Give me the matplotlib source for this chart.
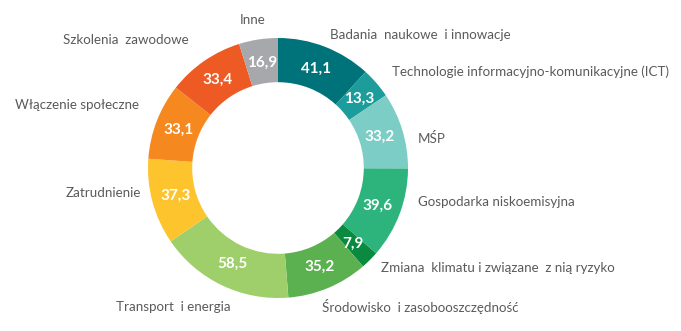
import matplotlib
matplotlib.use("Agg")
import matplotlib.pyplot as plt
import numpy as np

labels = ["Badania  naukowe  i innowacje",
          "Technologie informacyjno-komunikacyjne (ICT)",
          "MŚP",
          "Gospodarka niskoemisyjna",
          "Zmiana  klimatu i związane  z nią ryzyko",
          "Środowisko  i zasobooszczędność",
          "Transport  i energia",
          "Zatrudnienie",
          "Włączenie społeczne",
          "Szkolenia  zawodowe",
          "Inne"]
values = [41.1, 13.3, 33.2, 39.6, 7.9, 35.2, 58.5, 37.3, 33.1, 33.4, 16.9]
colors = ["#00737A", "#1C9C9B", "#7BCDC6", "#2DB47C", "#0A8A3E", "#5BB04F",
          "#9FCF6B", "#FEC42E", "#F5891F", "#EE5A24", "#A7A8AB"]

# label anchor positions in pixels (x, y from top, ha)
label_pos = [(330, 35, "left"), (392, 72, "left"), (418, 139, "left"),
             (418, 202, "left"), (381, 268, "left"), (322, 307, "left"),
             (231, 307, "right"), (141, 193, "right"), (139, 105, "right"),
             (189, 40, "right"), (253, 20, "center")]

W, H = 681, 331
cx, cy, R = 278, 168, 130

plt.rcParams['font.family'] = ['Lato', 'DejaVu Sans']

fig = plt.figure(figsize=(W / 100, H / 100), dpi=100)
ax = fig.add_axes([0, 0, 1, 1])

wedges, _ = ax.pie(values, colors=colors, startangle=90, counterclock=False,
                   radius=1, wedgeprops=dict(width=0.34, linewidth=0))

ax.set_xlim(-cx / R, (W - cx) / R)
ax.set_ylim(-(H - cy) / R, cy / R)
ax.set_aspect("equal")
ax.axis("off")

for w, v in zip(wedges, values):
    ang = np.deg2rad((w.theta1 + w.theta2) / 2)
    r = 0.82
    ax.text(r * np.cos(ang), r * np.sin(ang), f"{v:.1f}".replace(".", ","),
            ha="center", va="center", color="white", fontsize=11, fontweight="bold")

for lab, (px, py, ha) in zip(labels, label_pos):
    ax.text((px - cx) / R, (cy - py) / R, lab, ha=ha, va="center",
            color="#5a5a5a", fontsize=9.6)

fig.savefig("out.png", dpi=100)
